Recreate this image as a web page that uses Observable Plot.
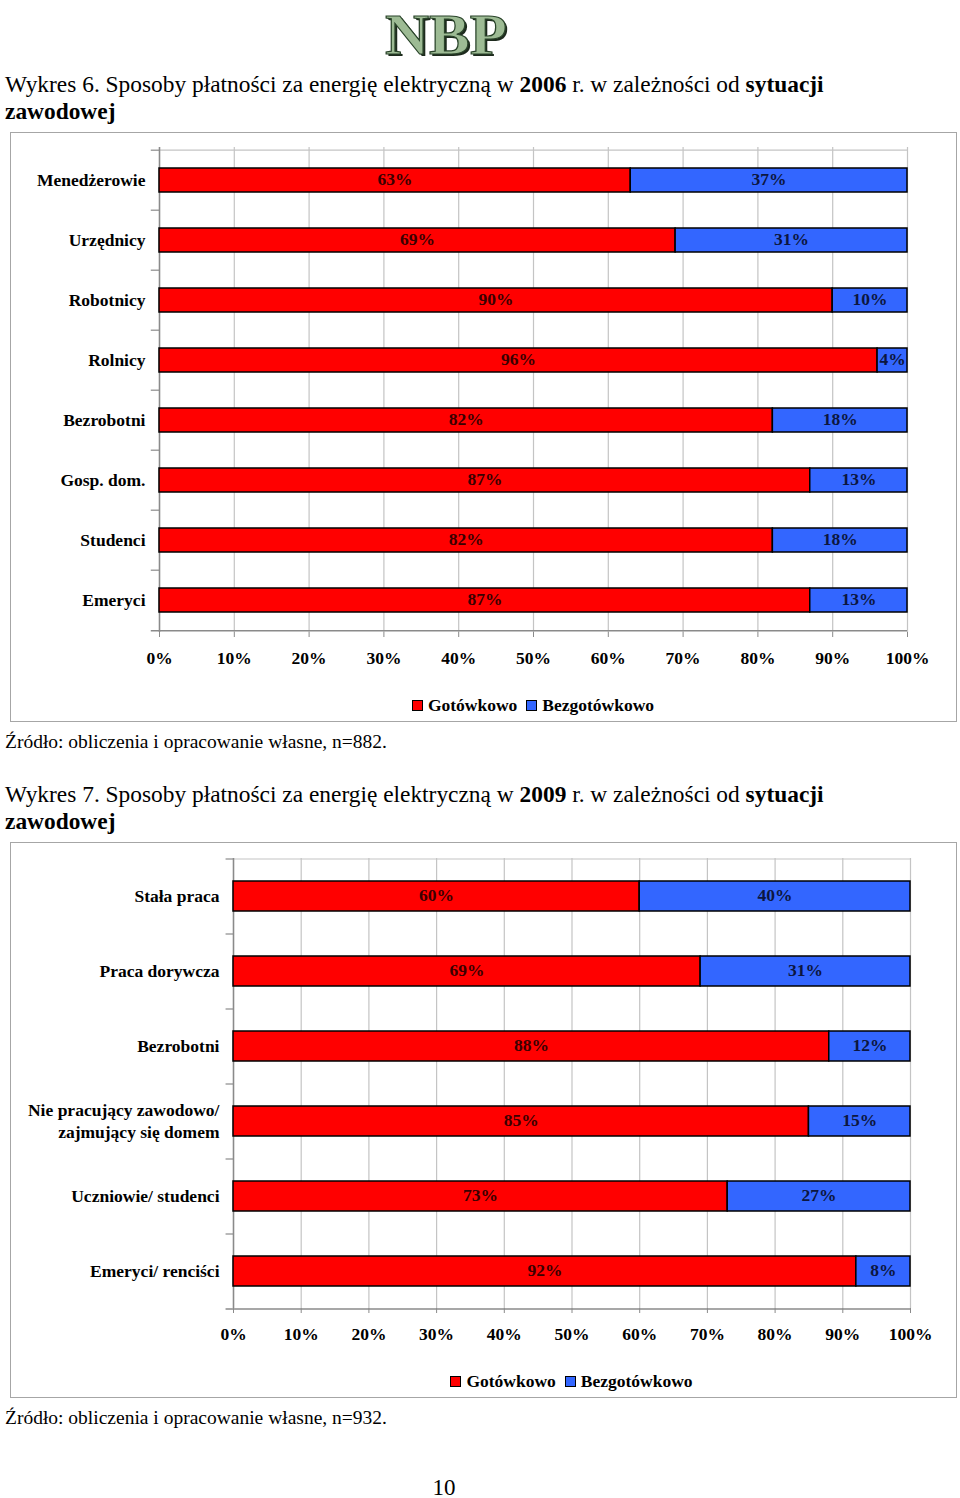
<!DOCTYPE html>
<html><head><meta charset="utf-8">
<script src="https://cdn.jsdelivr.net/npm/d3@7"></script>
<script src="https://cdn.jsdelivr.net/npm/@observablehq/plot@0.6"></script>
<style>
html,body{margin:0;padding:0;background:#fff;}
body{width:960px;height:1498px;position:relative;overflow:hidden;font-family:'Liberation Serif',serif;color:#000;}
.abs{position:absolute;}
.title{left:5px;font-size:23.4px;line-height:27px;white-space:nowrap;}
.source{left:5px;font-size:19.5px;line-height:22px;white-space:nowrap;}
.frame{left:10px;width:945px;border:1px solid #a6a6a6;}
.frame svg{position:absolute;left:0;top:0;}
.legend{position:absolute;display:flex;justify-content:center;align-items:center;gap:9px;font-weight:bold;font-size:17.5px;height:22px;line-height:22px;}
.legend .it{display:flex;align-items:center;}
.sw{display:inline-block;width:9px;height:9px;border:1.5px solid #000;margin-right:5px;}
.logo{left:366px;top:1px;width:160px;text-align:center;font-size:58px;font-weight:bold;line-height:normal;color:#9dbb94;-webkit-text-stroke:1.2px #2a442a;text-shadow:2px 2px 0 #1d2a1d;transform:scaleX(1.05);transform-origin:center;}
</style></head>
<body>
<div class="abs logo">NBP</div>
<div class="abs title" style="top:71px">Wykres 6. Sposoby płatności za energię elektryczną w <b>2006</b> r. w zależności od <b>sytuacji<br>zawodowej</b></div>
<div class="abs frame" id="f1" style="top:132px;height:588px;"></div>
<div class="abs source" style="top:731px">Źródło: obliczenia i opracowanie własne, n=882.</div>
<div class="abs title" style="top:781px">Wykres 7. Sposoby płatności za energię elektryczną w <b>2009</b> r. w zależności od <b>sytuacji<br>zawodowej</b></div>
<div class="abs frame" id="f2" style="top:842px;height:554px;"></div>
<div class="abs source" style="top:1407px">Źródło: obliczenia i opracowanie własne, n=932.</div>
<div class="abs" style="left:424px;width:40px;text-align:center;top:1474px;font-size:23px;line-height:27px;">10</div>
<script>
const series = ["Gotówkowo", "Bezgotówkowo"];
const seriesColors = ["#ff0000", "#3366ff"];
const labelColors = ["#3a0000", "#0c1640"];
const xTicks = [0, 10, 20, 30, 40, 50, 60, 70, 80, 90, 100];

const categories2006 = ["Menedżerowie", "Urzędnicy", "Robotnicy", "Rolnicy", "Bezrobotni", "Gosp. dom.", "Studenci", "Emeryci"];
const cash2006 = [63, 69, 90, 96, 82, 87, 82, 87];
const nonCash2006 = [37, 31, 10, 4, 18, 13, 18, 13];

const categories2009 = ["Stała praca", "Praca dorywcza", "Bezrobotni", "Nie pracujący zawodowo/\nzajmujący się domem", "Uczniowie/ studenci", "Emeryci/ renciści"];
const cash2009 = [60, 69, 88, 85, 73, 92];
const nonCash2009 = [40, 31, 12, 15, 27, 8];

const FONT = "'Liberation Serif', serif";

function buildData(categories, cash, nonCash) {
  const rows = [];
  categories.forEach((c, i) => {
    const vals = [cash[i], nonCash[i]];
    let acc = 0;
    vals.forEach((v, k) => {
      rows.push({cat: c, type: series[k], k, value: v, start: acc, end: acc + v});
      acc += v;
    });
  });
  return rows;
}

function chart(el, {categories, cash, nonCash, width, height, marginLeft, marginRight, marginTop, marginBottom}) {
  const data = buildData(categories, cash, nonCash);
  const step = (height - marginTop - marginBottom) / categories.length;
  const first = categories[0];
  const last = categories[categories.length - 1];
  const svg = Plot.plot({
    width, height, marginLeft, marginRight, marginTop, marginBottom,
    style: {fontFamily: FONT, fontSize: "17.5px", fontWeight: "bold", color: "#000", background: "transparent", overflow: "visible"},
    x: {domain: [0, 100], ticks: xTicks, tickFormat: d => d + "%", label: null},
    y: {domain: categories, paddingInner: 0.6, paddingOuter: 0.3, label: null},
    color: {domain: series, range: seriesColors},
    marks: [
      Plot.ruleX(xTicks, {stroke: "#c4c4c4", strokeWidth: 1.2}),
      Plot.ruleY([first], {y: d => d, x1: 0, x2: 100, dy: -step / 2, stroke: "#c4c4c4", strokeWidth: 1.2}),
      Plot.ruleY(categories, {y: d => d, x1: -1.1, x2: 0, dy: -step / 2, stroke: "#8a8a8a", strokeWidth: 1.2}),
      Plot.ruleY([last], {y: d => d, x1: -1.1, x2: 100, dy: step / 2, stroke: "#8a8a8a", strokeWidth: 1.5}),
      Plot.ruleX([0], {stroke: "#8a8a8a", strokeWidth: 1.5}),
      Plot.barX(data, {x1: "start", x2: "end", y: "cat", fill: "type", stroke: "#000", strokeWidth: 1.5}),
      ...series.map((s, k) => Plot.text(data.filter(d => d.k === k), {
        x: d => (d.start + d.end) / 2, y: "cat", text: d => d.value + "%",
        fill: labelColors[k], fontSize: 17.5, fontWeight: "bold", dy: -1
      })),
      Plot.axisX({ticks: xTicks, tickFormat: d => d + "%", tickSize: 5, tickPadding: 14, stroke: "#8a8a8a", fill: "#000", label: null}),
      Plot.axisY({tickSize: 0, tickPadding: 14, fill: "#000", lineHeight: 1.26, dy: -2, label: null})
    ]
  });
  el.appendChild(svg);
  const lg = document.createElement("div");
  lg.className = "legend";
  lg.style.left = marginLeft + "px";
  lg.style.width = (width - marginLeft - marginRight) + "px";
  lg.style.top = (height - marginBottom + 62) + "px";
  series.forEach((s, k) => {
    const it = document.createElement("span");
    it.className = "it";
    const sw = document.createElement("span");
    sw.className = "sw";
    sw.style.background = seriesColors[k];
    it.appendChild(sw);
    it.appendChild(document.createTextNode(s));
    lg.appendChild(it);
  });
  el.appendChild(lg);
}

chart(document.getElementById("f1"), {
  categories: categories2006, cash: cash2006, nonCash: nonCash2006,
  width: 945, height: 560, marginLeft: 148, marginRight: 49, marginTop: 14, marginBottom: 61
});
chart(document.getElementById("f2"), {
  categories: categories2009, cash: cash2009, nonCash: nonCash2009,
  width: 945, height: 525, marginLeft: 222, marginRight: 46, marginTop: 15, marginBottom: 60
});
</script>
</body></html>
